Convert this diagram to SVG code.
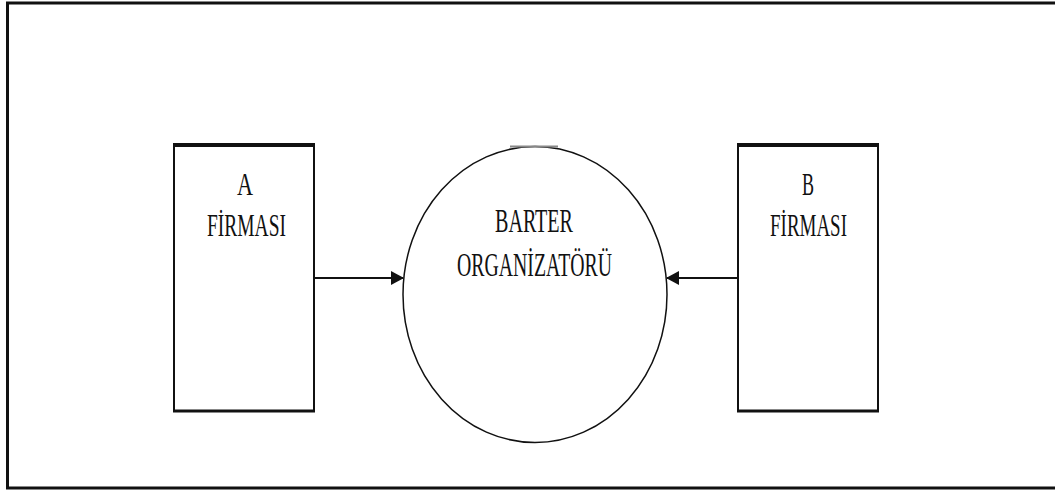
<svg xmlns="http://www.w3.org/2000/svg" width="1055" height="491" viewBox="0 0 1055 491">
<defs>
<style>
.lbl{font-family:"Liberation Serif","Times New Roman",serif;fill:#111;}
.box{fill:#fff;stroke:#111;stroke-width:2;}
.edge{stroke:#111;stroke-width:2;fill:none;}
</style>
<marker id="ah" markerWidth="13" markerHeight="14" refX="12" refY="7" orient="auto" markerUnits="userSpaceOnUse">
<path d="M0,0 L13,7 L0,14 Z" fill="#111"/>
</marker>
</defs>
<rect x="0" y="0" width="1055" height="491" fill="#fff"/>
<path d="M7.5,489 L7.5,3 L1056,3" fill="none" stroke="#111" stroke-width="3"/>
<line x1="6" y1="488" x2="1056" y2="488" stroke="#111" stroke-width="3"/>
<g id="nodeA">
<rect class="box" x="174" y="145" width="140" height="266"/>
<line x1="173" y1="145" x2="315" y2="145" stroke="#111" stroke-width="4"/>
<line x1="173" y1="411" x2="315" y2="411" stroke="#111" stroke-width="3"/>
<text class="lbl" x="237" y="195" font-size="32" textLength="16" lengthAdjust="spacingAndGlyphs">A</text>
<text class="lbl" x="207" y="236" font-size="31" textLength="79" lengthAdjust="spacingAndGlyphs">FİRMASI</text>
</g>
<g id="nodeB">
<rect class="box" x="738" y="145" width="140" height="266"/>
<line x1="737" y1="145" x2="879" y2="145" stroke="#111" stroke-width="4"/>
<line x1="737" y1="411" x2="879" y2="411" stroke="#111" stroke-width="3"/>
<text class="lbl" x="802" y="195" font-size="32" textLength="12" lengthAdjust="spacingAndGlyphs">B</text>
<text class="lbl" x="770" y="236" font-size="31" textLength="77" lengthAdjust="spacingAndGlyphs">FİRMASI</text>
</g>
<g id="nodeBarter">
<ellipse cx="535" cy="294.5" rx="132" ry="148" fill="#fff" stroke="#111" stroke-width="1.5"/>
<line x1="510" y1="146.5" x2="558" y2="146.5" stroke="#888" stroke-width="2"/>
<text class="lbl" x="495" y="232" font-size="34" textLength="78" lengthAdjust="spacingAndGlyphs">BARTER</text>
<text class="lbl" x="457" y="276" font-size="34" textLength="155" lengthAdjust="spacingAndGlyphs">ORGANİZATÖRÜ</text>
</g>
<g id="connectors">
<line class="edge" x1="314" y1="278" x2="403" y2="278" marker-end="url(#ah)"/>
<line class="edge" x1="738" y1="278" x2="667" y2="278" marker-end="url(#ah)"/>
</g>
</svg>
